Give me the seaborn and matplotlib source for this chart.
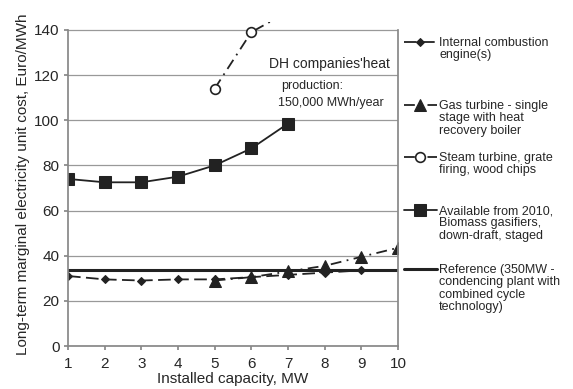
import seaborn as sns
import pandas as pd
import numpy as np
import matplotlib.pyplot as plt

sns.set_theme(style="ticks")
plt.rcParams["font.family"] = ["Liberation Sans", "DejaVu Sans"]

# data
capacity = [1, 2, 3, 4, 5, 6, 7, 8, 9, 10]
ice_cap = [1, 2, 3, 4, 5, 6, 7, 8, 9]
ice_cost = [31, 29.5, 29, 29.5, 29.5, 30.5, 31.5, 32.5, 33.5]
gas_cap = [5, 6, 7, 8, 9, 10]
gas_cost = [29, 30.5, 33, 35.5, 39.5, 43.5]
steam_cap = [5, 6, 7]
steam_cost = [114, 139, 148]
gasif_cap = [1, 2, 3, 4, 5, 6, 7]
gasif_cost = [74, 72.5, 72.5, 75, 80, 87.5, 98.5]
reference_cost = 33.5

labels = [
    "Internal combustion\nengine(s)",
    "Gas turbine - single\nstage with heat\nrecovery boiler",
    "Steam turbine, grate\nfiring, wood chips",
    "Available from 2010,\nBiomass gasifiers,\ndown-draft, staged",
    "Reference (350MW -\ncondencing plant with\ncombined cycle\ntechnology)",
]

W, H = 573, 389
fig = plt.figure(figsize=(W / 100, H / 100), dpi=100)
ax = fig.add_axes([68 / W, 1 - 346 / H, 330 / W, 324 / H])
ink = "#222222"

sns.lineplot(x=ice_cap, y=ice_cost, ax=ax, color=ink, lw=1.3, ls=(0, (7, 3)),
             marker="D", markersize=4, markeredgecolor=ink, label=labels[0])
sns.lineplot(x=gas_cap, y=gas_cost, ax=ax, color=ink, lw=1.3, ls=(0, (6, 3, 1, 3)),
             marker="^", markersize=8, markeredgecolor=ink, label=labels[1])
sns.lineplot(x=steam_cap, y=steam_cost, ax=ax, color=ink, lw=1.3, ls=(0, (6, 3, 1, 3)),
             marker="o", markersize=7, markerfacecolor="white", markeredgecolor=ink,
             markeredgewidth=1.2, label=labels[2])
sns.lineplot(x=gasif_cap, y=gasif_cost, ax=ax, color=ink, lw=1.3,
             marker="s", markersize=8, markeredgecolor=ink, label=labels[3])
ax.axhline(reference_cost, color=ink, lw=2.2, label=labels[4])

ax.set_xlim(1, 10)
ax.set_ylim(0, 143.5)
ax.set_xticks(capacity)
ax.set_yticks(range(0, 141, 20))
ax.yaxis.grid(True, color="#999999", lw=0.9)
ax.spines["top"].set_visible(False)
for s in ["left", "right", "bottom"]:
    ax.spines[s].set_color("#888888")
ax.spines["left"].set_bounds(0, 140)
ax.spines["right"].set_bounds(0, 140)
ax.tick_params(axis="both", labelsize=11, length=3, color="#888888", pad=3)
ax.tick_params(axis="x", pad=5)
ax.set_xlabel("Installed capacity, MW", fontsize=11, labelpad=1)
ax.set_ylabel("Long-term marginal electricity unit cost, Euro/MWh", fontsize=11, labelpad=3)

ax.text(9.78, 125, "DH companies'heat", ha="right", va="center", fontsize=10)
ax.text(6.81, 115, "production:", ha="left", va="center", fontsize=9)
ax.text(6.73, 107.5, "150,000 MWh/year", ha="left", va="center", fontsize=9)

# legend: one entry per block, handle beside the first line of each label
handles, _ = ax.get_legend_handles_labels()
ax.get_legend().remove()
fs, hl, hp = 9, 2.6, 0.2
em = fs * 100 / 72
text_x = 404 + (hl + hp) * em
first_line_y = [43, 106, 158, 211, 270]
for h, lab, yc in zip(handles, labels, first_line_y):
    lines = lab.split("\n")
    fig.legend([h], [lines[0]], loc="center left", bbox_to_anchor=(404 / W, 1 - yc / H),
               frameon=False, fontsize=fs, handlelength=hl, handletextpad=hp,
               borderaxespad=0, borderpad=0)
    for k, extra in enumerate(lines[1:], 1):
        fig.text(text_x / W, 1 - (yc + k * 12.3) / H, extra, va="center", fontsize=fs)

fig.savefig("out.png", dpi=100)
